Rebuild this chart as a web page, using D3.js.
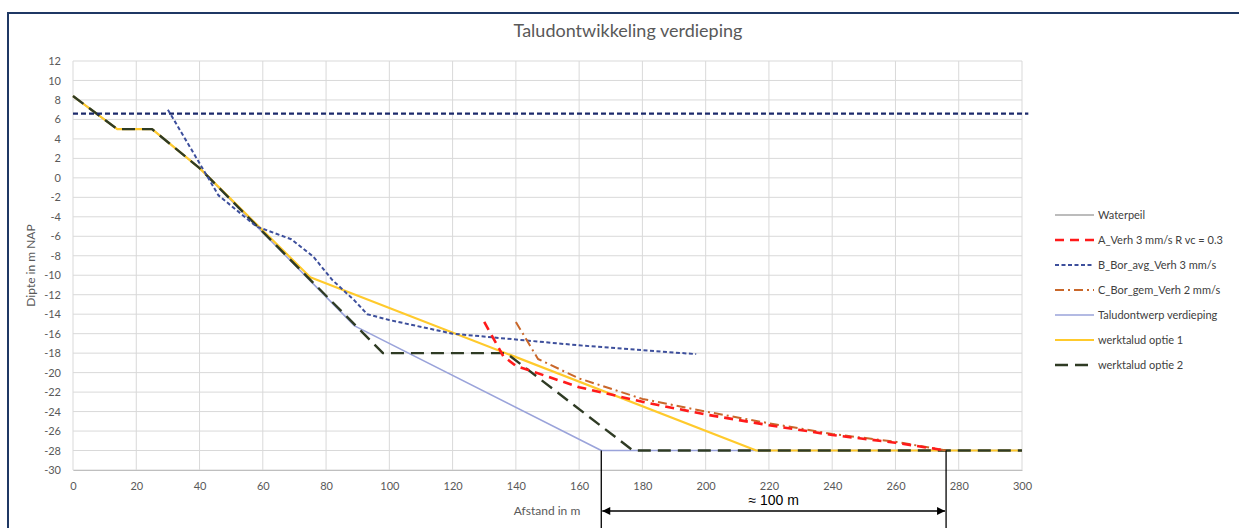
<!DOCTYPE html>
<html>
<head>
<meta charset="utf-8">
<script src="https://cdn.jsdelivr.net/npm/d3@7"></script>
<style>
  html, body { margin: 0; padding: 0; background: #fff; }
  svg { display: block; font-family: Lato, "Open Sans", "Liberation Sans", sans-serif; }
</style>
</head>
<body>
<svg id="chart" width="1239" height="528"></svg>
<script>
// Distance (m) / depth (m NAP) profiles
const xTicks = d3.range(0, 301, 20);
const yTicks = d3.range(-30, 13, 2);

const waterpeil = [[0, 6.6], [302, 6.6]];
const seriesA = [[130, -14.8], [136, -18.3], [140, -19.3], [160, -21.5], [180, -23.0], [200, -24.3],
                 [220, -25.4], [240, -26.4], [260, -27.2], [276, -28.0]];
const seriesB = [[30, 7.0], [46, -1.8], [58, -5.0], [69, -6.3], [76, -8.1], [82, -10.5],
                 [89, -12.6], [93, -14.0], [100, -14.6], [120, -16.0], [140, -16.6], [160, -17.2],
                 [180, -17.7], [197, -18.1]];
const seriesC = [[140, -14.8], [147, -18.6], [160, -20.6], [180, -22.7], [200, -24.0], [220, -25.2],
                 [240, -26.3], [260, -27.1], [276, -28.0]];
const taludontwerp = [[0, 8.4], [14, 5.0], [25, 5.0], [40, 1.0], [89, -15.2], [167, -28.0], [300, -28.0]];
const optie1 = [[0, 8.4], [14, 5.0], [25, 5.0], [40, 1.0], [75, -10.2], [216, -28.0], [300, -28.0]];
const optie2 = [[0, 8.4], [14, 5.0], [25, 5.0], [40, 1.0], [98, -18.0], [137, -18.0], [177, -28.0], [300, -28.0]];

const legendNames = ["Waterpeil", "A_Verh 3 mm/s R vc = 0.3", "B_Bor_avg_Verh 3 mm/s", "C_Bor_gem_Verh 2 mm/s",
                     "Taludontwerp verdieping", "werktalud optie 1", "werktalud optie 2"];

const svg = d3.select("#chart");

// outer frame
svg.append("rect").attr("x", 8).attr("y", 13).attr("width", 1240).attr("height", 530)
  .attr("fill", "none").attr("stroke", "#1f3864").attr("stroke-width", 2);

const x = d3.scaleLinear().domain([0, 300]).range([73, 1022]);
const y = d3.scaleLinear().domain([-30, 12]).range([470, 61]);

// gridlines
svg.append("g").selectAll("line").data(yTicks).join("line")
  .attr("x1", x(0)).attr("x2", x(300)).attr("y1", d => y(d)).attr("y2", d => y(d))
  .attr("stroke", "#d9d9d9").attr("stroke-width", 1);
svg.append("g").selectAll("line").data(xTicks).join("line")
  .attr("y1", y(-30)).attr("y2", y(12)).attr("x1", d => x(d)).attr("x2", d => x(d))
  .attr("stroke", "#d9d9d9").attr("stroke-width", 1);

// axes
const xAxis = svg.append("g").attr("transform", `translate(0,${y(-30)})`)
  .call(d3.axisBottom(x).tickValues(xTicks).tickSize(0).tickPadding(12));
const yAxis = svg.append("g").attr("transform", `translate(${x(0)},0)`)
  .call(d3.axisLeft(y).tickValues(yTicks).tickSize(0).tickPadding(12).tickFormat(d => d < 0 ? "-" + Math.abs(d) : d));
[xAxis, yAxis].forEach(g => {
  g.select(".domain").attr("stroke", "#bfbfbf");
  g.selectAll("text").attr("fill", "#595959").style("font-size", "11px")
    .style("font-family", "Lato, 'Open Sans', sans-serif");
});
yAxis.select(".domain").remove();

// titles
svg.append("text").attr("x", 628).attr("y", 37).attr("text-anchor", "middle")
  .attr("fill", "#595959").style("font-size", "18px").text("Taludontwikkeling verdieping");
svg.append("text").attr("x", 547).attr("y", 515).attr("text-anchor", "middle")
  .attr("fill", "#595959").style("font-size", "12px").text("Afstand in m");
svg.append("text").attr("transform", `translate(35,${y(-9)}) rotate(-90)`).attr("text-anchor", "middle")
  .attr("fill", "#595959").style("font-size", "12px").text("Dipte in m NAP");

const line = d3.line().x(d => x(d[0])).y(d => y(d[1]));

const styles = [
  { data: waterpeil, stroke: "#1c2a6b", width: 2.2, dash: "5,3", legendStroke: "#a6a6a6", legendWidth: 1.3, legendDash: null },
  { data: seriesA, stroke: "#ff1a1a", width: 2.6, dash: "9,6" },
  { data: seriesB, stroke: "#3d4f9c", width: 2, dash: "4,2.5" },
  { data: seriesC, stroke: "#c9672a", width: 2, dash: "9,4,2,4" },
  { data: taludontwerp, stroke: "#9aa3da", width: 1.6, dash: null },
  { data: optie1, stroke: "#ffca2c", width: 2.2, dash: null },
  { data: optie2, stroke: "#2f3b24", width: 2.4, dash: "13,7" }
];

// draw order: design profile and working slopes underneath the borehole series
const order = [4, 5, 6, 0, 2, 3, 1];
order.forEach(i => {
  const s = styles[i];
  svg.append("path").datum(s.data).attr("d", line).attr("fill", "none")
    .attr("stroke", s.stroke).attr("stroke-width", s.width)
    .attr("stroke-dasharray", s.dash).attr("stroke-linejoin", "round");
});

// legend
const lg = svg.append("g");
legendNames.forEach((name, i) => {
  const s = styles[i];
  const ly = 215 + i * 25;
  lg.append("line").attr("x1", 1055).attr("x2", 1094).attr("y1", ly).attr("y2", ly)
    .attr("stroke", s.legendStroke || s.stroke)
    .attr("stroke-width", s.legendWidth || s.width)
    .attr("stroke-dasharray", s.legendStroke ? s.legendDash : s.dash);
  lg.append("text").attr("x", 1098).attr("y", ly + 4).attr("fill", "#404040")
    .style("font-size", "11px").text(name);
});

// distance annotation between toe of design slope and toe of widest working slope
const aStart = taludontwerp[5][0], aEnd = seriesA[seriesA.length - 1][0];
const defs = svg.append("defs");
defs.append("marker").attr("id", "arr").attr("viewBox", "0 0 10 10").attr("refX", 10).attr("refY", 5)
  .attr("markerWidth", 10).attr("markerHeight", 8).attr("orient", "auto-start-reverse")
  .attr("markerUnits", "userSpaceOnUse")
  .append("path").attr("d", "M0,0 L10,5 L0,10 z").attr("fill", "#000");
[aStart, aEnd].forEach(v => {
  svg.append("line").attr("x1", x(v)).attr("x2", x(v)).attr("y1", y(-28)).attr("y2", 528)
    .attr("stroke", "#000").attr("stroke-width", 1.3);
});
svg.append("line").attr("x1", x(aStart) + 1).attr("x2", x(aEnd) - 1).attr("y1", 511).attr("y2", 511)
  .attr("stroke", "#000").attr("stroke-width", 1.3)
  .attr("marker-start", "url(#arr)").attr("marker-end", "url(#arr)");
svg.append("text").attr("x", (x(aStart) + x(aEnd)) / 2).attr("y", 505).attr("text-anchor", "middle")
  .attr("fill", "#000").style("font-family", "'Liberation Sans', Arial, sans-serif")
  .style("font-size", "14px").text("≈ 100 m");
</script>
</body>
</html>
